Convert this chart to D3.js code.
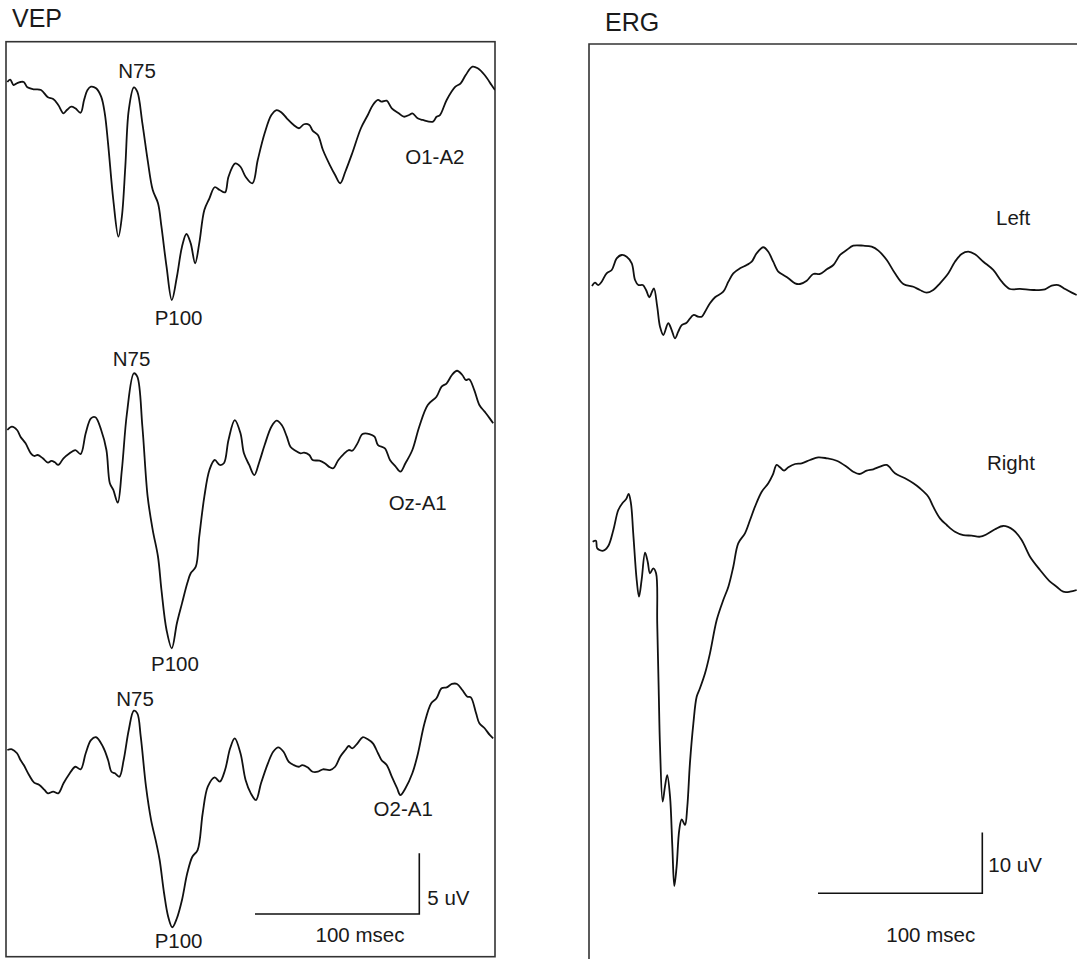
<!DOCTYPE html>
<html><head><meta charset="utf-8">
<script src="https://cdn.jsdelivr.net/npm/d3@7/dist/d3.min.js"></script>
<style>
html,body{margin:0;padding:0;background:#fff;}
text{font-family:"Liberation Sans",Arial,Helvetica,sans-serif;fill:#1a1a1a;}
</style></head>
<body>
<svg id="chart" width="1077" height="959"></svg>
<script>
// ---------- DATA ----------
// VEP traces: [time (ms), amplitude (uV), positive plotted downward]
const vepO1A2 = [[0,0],[1.7,-0.2],[3.8,0.25],[5.9,0.1],[8,0],[10,0],[12.2,0.44],[16.3,0.6],[20.5,0.66],[24.7,1.26],[27.9,1.4],[31,1.89],[34.2,2.58],[36.2,2.31],[38.9,2.03],[41.4,2.17],[44.6,2.53],[46.7,1.48],[48.8,0.66],[50.9,0.39],[54,0.52],[57.1,1.21],[59.3,2.58],[61.3,5.05],[64.5,9.72],[67.6,12.74],[69.7,11.1],[71.8,6.98],[73.9,2.31],[77,0.44],[79.1,0.8],[82.2,3.4],[85.4,6.43],[88.5,8.9],[91.7,9.99],[93.8,11.92],[96.9,15.21],[100.1,17.96],[103.2,16.04],[106.3,13.57],[109,12.52],[111.6,13.29],[114.3,14.93],[116.8,13.29],[119.9,10.54],[123,9.58],[126.2,8.67],[129.3,8.9],[132.5,9.09],[134.6,7.8],[138.7,6.7],[141.9,6.98],[145,7.8],[149.2,8.34],[152.4,6.43],[156.6,4.23],[160.7,2.72],[163.9,2.31],[167,2.53],[170.1,2.99],[174.3,3.54],[177.5,3.81],[180.6,3.48],[183.8,3.54],[185.8,4.01],[189,4.37],[192.1,5.6],[196.3,6.84],[199.5,7.66],[202.6,8.34],[205.7,7.39],[209.9,5.87],[215.2,3.81],[219.4,2.72],[222.5,1.89],[225.6,1.48],[227.7,1.62],[230.9,1.54],[234,2.17],[238.2,2.58],[241.3,2.86],[244.5,2.72],[246.5,2.58],[249.7,2.99],[252.8,3.13],[259.1,3.27],[261.2,2.86],[263.3,2.72],[267.4,1.48],[272.7,0.39],[275.9,0.11],[279,-0.58],[283.1,-1.26],[286.3,-1.13],[290.5,-0.58],[294.7,0.25],[296.8,0.66]];
const vepOzA1 = [[0,0],[2.8,-0.27],[5.9,0],[8,0.55],[11.1,1.1],[14.3,1.92],[16.3,2.14],[18.5,2.06],[21.6,2.33],[24.7,2.69],[26.8,2.55],[28.9,2.66],[31,2.88],[34.2,2.33],[37.3,1.98],[41.4,1.65],[44.6,1.98],[47.7,0.27],[50.9,-0.96],[53.6,-1.05],[57.1,0],[60.3,1.65],[62.4,4.39],[64.5,4.94],[67.2,5.99],[69.7,3.29],[72.8,-1.38],[77,-4.67],[79.1,-4.39],[82.2,-0.27],[85.4,5.49],[88.5,8.24],[91.7,10.44],[93.8,13.18],[96.9,16.47],[100.1,17.98],[103.2,15.92],[106.3,14.28],[109.5,12.63],[111.6,11.8],[114.7,11.26],[116.8,8.79],[119.9,5.49],[123,3.29],[126.2,2.47],[129.3,2.88],[131.8,2.74],[134.6,0.82],[138.4,-0.82],[141.9,0.27],[144,1.92],[147.2,2.88],[150.3,3.71],[153.4,2.61],[156.6,1.24],[160.7,-0.27],[163.9,-0.77],[167,-0.41],[170.1,0.55],[172.3,1.38],[175.4,1.71],[178.5,1.92],[180.6,1.87],[183.8,2.06],[185.8,2.47],[190,2.53],[193.2,2.74],[196.3,3.07],[198.4,3.15],[201.5,2.47],[204.7,1.98],[207.8,1.65],[209.9,1.71],[213.1,1.1],[216.2,0.33],[220.4,0.33],[223.5,0.55],[225.6,1.24],[229.8,1.51],[232.9,2.47],[236.1,2.97],[239.2,3.43],[242.3,2.74],[246.5,1.65],[250.7,-0.27],[255.9,-2.06],[261.2,-2.74],[264.3,-3.57],[267.4,-3.85],[270.6,-4.53],[273.7,-4.88],[276.9,-4.53],[279,-4.12],[281.1,-4.18],[284.2,-3.29],[287.3,-2.06],[290.5,-1.51],[293.6,-0.96],[295.7,-0.55]];
const vepO2A1 = [[0,0],[2.8,-0.06],[5.9,0.27],[8,0.82],[10,1.24],[13.2,2.06],[16.3,2.69],[19.5,2.88],[22.6,3.29],[24.7,3.57],[27.9,3.43],[31,3.57],[34.2,2.74],[37.3,2.06],[41.4,1.38],[44.6,1.59],[47.7,0.27],[50.9,-0.82],[54,-1.05],[58.2,-0.27],[61.3,0.82],[63.4,1.79],[65.5,1.92],[68.2,2.2],[70.8,0.82],[73.9,-1.65],[77,-3.24],[79.1,-3.02],[81.2,-1.1],[84.4,3.02],[87.5,5.77],[90.7,7.69],[92.7,9.06],[95.4,11.8],[97.9,13.73],[100.4,14.6],[103.2,13.86],[106.3,12.36],[109.5,10.16],[112.6,8.79],[115.8,8.24],[118.9,5.21],[122,3.02],[126.2,2.25],[129.3,2.61],[132.5,1.65],[135.6,-0.14],[138.4,-0.96],[141.9,0.27],[145,2.47],[148.2,3.57],[151.3,4.12],[154.4,2.74],[158.6,1.1],[161.8,0.14],[164.9,-0.22],[168.1,0.14],[171.2,0.96],[174.3,1.24],[177.5,1.38],[179.5,1.24],[182.7,1.43],[185.8,1.79],[189,1.79],[192.1,1.59],[196.3,1.65],[199.5,1.38],[202.6,0.55],[205.7,0],[207.8,-0.33],[209.9,-0.14],[213.1,-0.55],[216.2,-1.05],[219.4,-0.88],[222.5,-0.55],[225.6,0.27],[227.7,0.82],[230.9,1.24],[234,2.2],[237.2,3.15],[239.2,3.71],[242.3,3.15],[246.5,1.92],[249.7,0.41],[253.9,-2.2],[258,-3.85],[261.2,-4.26],[264.3,-5.08],[267.4,-5.16],[270.6,-5.44],[273.7,-5.44],[276.9,-4.94],[280,-4.39],[282.1,-4.34],[285.3,-3.02],[287.3,-2.2],[290.5,-1.79],[293.6,-1.24],[295.7,-0.96]];
// ERG traces: [time (ms), amplitude (uV), positive plotted upward]
const ergLeft = [[0,0],[1.8,0.54],[3.8,0.16],[5.9,0.71],[8.9,2.09],[12,2.64],[15,4.56],[18.1,5.11],[21.1,4.83],[24.2,3.74],[26.2,0.99],[28.2,0.16],[30.9,0.16],[32.9,-0.66],[34.9,-1.86],[36.3,-1.1],[37.7,-0.38],[39.7,-3.41],[41.4,-6.7],[43.4,-8.07],[46.4,-6.14],[48.5,-7.25],[50.5,-8.62],[52.5,-7.53],[54.6,-6.43],[57.6,-6.05],[61.7,-4.78],[64.7,-5.06],[66.8,-5.06],[68.8,-4.24],[71.8,-2.85],[74.9,-1.86],[79.9,-0.94],[83,0.71],[86,2.09],[90.1,2.92],[94.2,3.46],[97.2,4],[100.2,5.39],[104.3,6.38],[107.3,5.65],[110.3,4],[113.4,2.36],[116.4,1.81],[119.5,1.27],[123.6,0.44],[126.6,0.33],[130.7,0.87],[134.7,1.98],[138.8,1.98],[142.9,2.75],[146.9,3.46],[151,5.11],[155,5.93],[159,6.64],[165.1,6.64],[170.2,6.47],[174.3,5.82],[179.4,4.28],[184.4,2.09],[189.5,0.33],[195.6,-0.12],[199.6,-0.66],[203.7,-1.1],[207.7,-0.66],[211.8,0.44],[216.9,2.09],[220.9,4],[225,5.27],[229,5.65],[233.1,5.22],[238.2,4],[244.2,2.64],[249.4,0.71],[254.4,-0.49],[260.5,-0.49],[268.6,-0.66],[275.7,-0.54],[279.8,0.05],[283.8,0.16],[287.9,-0.49],[292,-1.1],[295,-1.48]];
const ergRight = [[0.4,0.05],[2.4,0.21],[3.2,-1.04],[6.9,-1.43],[9.9,-0.66],[13,1.98],[16,5.27],[18.7,6.47],[20.7,7.03],[22.3,7.91],[23.7,6.38],[25.1,1.43],[27.2,-6.26],[28.6,-9.01],[30.2,-6.26],[32.3,-1.76],[33.9,-3.25],[35.3,-5.16],[37.3,-4.33],[39,-5.16],[39.7,-13.39],[40.6,-24.38],[41.4,-33.72],[43,-42.78],[44.4,-40.31],[45.8,-38.39],[47.5,-41.96],[48.9,-50.2],[50.1,-56.67],[51.5,-53.49],[53.1,-47.45],[54.6,-45.68],[56.6,-46.62],[58,-43.61],[59.6,-36.46],[61.7,-29.87],[63.7,-25.49],[65.7,-24.1],[68.8,-21.63],[71.8,-18.34],[75.9,-12.85],[79.9,-9.56],[83,-7.36],[86,-4.07],[89,-0.21],[93.1,1.43],[96.2,3.62],[99.2,5.82],[103.3,8.29],[107.3,9.67],[110,11.04],[112.4,12.69],[114.4,12.31],[116.9,11.75],[119.5,12.31],[123.6,12.85],[127.6,12.97],[132.7,13.51],[137.7,13.95],[142.9,13.79],[148.9,13.39],[155,12.41],[159,11.58],[162.7,11.2],[167.2,11.75],[171.2,11.98],[175.3,12.41],[179.4,12.69],[184.4,11.32],[190.5,10.49],[195.6,9.67],[199.6,8.85],[204.7,7.46],[207.7,5.82],[211.8,3.9],[215.9,2.8],[220.9,1.7],[226,1.15],[231.1,1.04],[236.2,0.87],[240.2,1.27],[245.3,2.09],[250.3,2.64],[256.4,1.98],[261.5,0.33],[266.6,-2.42],[272.7,-4.61],[278.8,-6.54],[282.8,-7.36],[286.8,-8.19],[290.9,-8.19],[295,-7.91]];

const vepNames = ["O1-A2","Oz-A1","O2-A1"];
const ergNames = ["Left","Right"];
const peakLabels = ["N75","P100"];
const scaleBarTime = 100;   // msec
const vepScaleAmp = 5;      // uV
const ergScaleAmp = 10;     // uV

// ---------- LAYOUT ----------
const svg = d3.select("#chart");
const ink = "#111";

// VEP panel
const vepBox = {x:6, y:41.7, w:489, h:915};
const xVep = d3.scaleLinear().domain([0,100]).range([7.34, 171.64]);
const vepPxPerUv = 60.7/5;
const vepBase = [82, 430, 750];
const yVep = vepBase.map(b => d3.scaleLinear().domain([0,5]).range([b, b + 5*vepPxPerUv]));

svg.append("text").attr("x",12).attr("y",27).attr("font-size",25).text("VEP");
svg.append("text").attr("x",605).attr("y",31).attr("font-size",25).text("ERG");

svg.append("defs").append("clipPath").attr("id","vepClip")
  .append("rect").attr("x",vepBox.x).attr("y",vepBox.y).attr("width",vepBox.w).attr("height",vepBox.h);

svg.append("rect").attr("x",vepBox.x).attr("y",vepBox.y).attr("width",vepBox.w).attr("height",vepBox.h)
  .attr("fill","none").attr("stroke","#333").attr("stroke-width",1.6);

const vepData = [vepO1A2, vepOzA1, vepO2A1];
const gV = svg.append("g").attr("clip-path","url(#vepClip)");
vepData.forEach((d,i) => {
  const line = d3.line().x(p => xVep(p[0])).y(p => yVep[i](p[1])).curve(d3.curveCatmullRom.alpha(0.5));
  gV.append("path").datum(d).attr("d",line).attr("fill","none").attr("stroke",ink).attr("stroke-width",1.8).attr("stroke-linejoin","round");
});

const fs = 20.5;
// peak & channel labels
const vepLabelPos = [
  {n:[137,78.3], p:[178.6,325], c:[434.9,164]},
  {n:[131.6,365.7], p:[174.9,671], c:[417.7,510]},
  {n:[135,705.7], p:[178.6,948.3], c:[403.2,816]}
];
vepLabelPos.forEach((L,i) => {
  svg.append("text").attr("x",L.n[0]).attr("y",L.n[1]).attr("text-anchor","middle").attr("font-size",fs).text(peakLabels[0]);
  svg.append("text").attr("x",L.p[0]).attr("y",L.p[1]).attr("text-anchor","middle").attr("font-size",fs).text(peakLabels[1]);
  svg.append("text").attr("x",L.c[0]).attr("y",L.c[1]).attr("text-anchor","middle").attr("font-size",fs).text(vepNames[i]);
});

// VEP scale bar (through scales)
{
  const x0 = 255, x1 = x0 + (xVep(scaleBarTime) - xVep(0));
  const yb = 914, yt = yb - (yVep[0](vepScaleAmp) - yVep[0](0));
  svg.append("path").attr("d",`M${x0},${yb}H${x1}V${yt}`).attr("fill","none").attr("stroke",ink).attr("stroke-width",1.6);
  svg.append("text").attr("x",x1+8).attr("y",905).attr("font-size",fs).text(`${vepScaleAmp} uV`);
  svg.append("text").attr("x",360).attr("y",941.7).attr("text-anchor","middle").attr("font-size",fs).text(`${scaleBarTime} msec`);
}

// ERG panel
const xErg = d3.scaleLinear().domain([0,100]).range([592, 756.3]);
const ergPxPerUv = 60.7/10;
const ergBase = [286, 542];
const yErg = ergBase.map(b => d3.scaleLinear().domain([0,10]).range([b, b - 10*ergPxPerUv]));

svg.append("path").attr("d","M589,965V44H1085").attr("fill","none").attr("stroke","#333").attr("stroke-width",1.6);

[ergLeft, ergRight].forEach((d,i) => {
  const line = d3.line().x(p => xErg(p[0])).y(p => yErg[i](p[1])).curve(d3.curveCatmullRom.alpha(0.5));
  svg.append("path").datum(d).attr("d",line).attr("fill","none").attr("stroke",ink).attr("stroke-width",1.8).attr("stroke-linejoin","round");
});

svg.append("text").attr("x",996).attr("y",225).attr("font-size",fs).text(ergNames[0]);
svg.append("text").attr("x",987).attr("y",470).attr("font-size",fs).text(ergNames[1]);

{
  const x1 = 982.3, x0 = x1 - (xErg(scaleBarTime) - xErg(0));
  const yb = 893.3, yt = yb - (yErg[0](0) - yErg[0](ergScaleAmp));
  svg.append("path").attr("d",`M${x0},${yb}H${x1}V${yt}`).attr("fill","none").attr("stroke",ink).attr("stroke-width",1.6);
  svg.append("text").attr("x",x1+6).attr("y",872).attr("font-size",fs).text(`${ergScaleAmp} uV`);
  svg.append("text").attr("x",930.7).attr("y",941.7).attr("text-anchor","middle").attr("font-size",fs).text(`${scaleBarTime} msec`);
}
</script>
</body></html>
